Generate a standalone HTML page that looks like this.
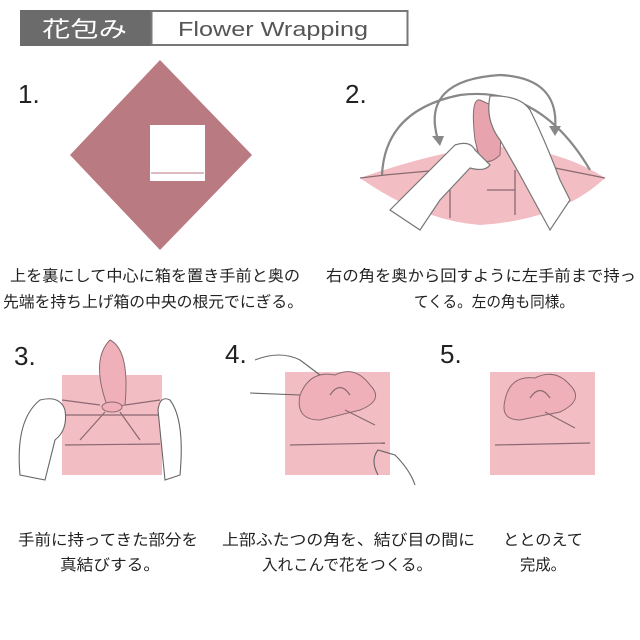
<!DOCTYPE html>
<html><head><meta charset="utf-8"><style>
html,body{margin:0;padding:0;background:#fff;}
svg{display:block;font-family:"Liberation Sans","Noto Sans CJK JP",sans-serif;}
</style></head><body>
<svg width="640" height="640" viewBox="0 0 640 640" xmlns="http://www.w3.org/2000/svg">
<rect x="20" y="10" width="132" height="36" fill="#6b6b6b"/>
<rect x="151.5" y="11" width="256" height="34" fill="#fff" stroke="#777" stroke-width="2"/>
<text x="42" y="37" font-size="22" fill="#fff" textLength="85" lengthAdjust="spacingAndGlyphs">花包み</text>
<text x="178" y="36" font-size="20" fill="#555" textLength="190" lengthAdjust="spacingAndGlyphs">Flower Wrapping</text>

<g font-size="26" fill="#222">
<text x="18" y="103">1.</text>
<text x="345" y="103">2.</text>
<text x="14" y="365">3.</text>
<text x="225" y="363">4.</text>
<text x="440" y="363">5.</text>
</g>

<polygon points="160,60 252,155 160,250 70,155" fill="#b97a81"/>
<rect x="150" y="125" width="55" height="56" fill="#fff"/>
<line x1="151" y1="173" x2="204" y2="173" stroke="#b97a81" stroke-width="1"/>

<path d="M360,178 Q470,140 520,148 Q570,155 605,178 Q560,220 480,225 Q420,220 360,178Z" fill="#f3bdc4"/>
<path d="M480,100 Q470,98 475,140 L480,160 Q490,165 500,155 L502,110Z" fill="#e8a4ae" stroke="#8a6a70"/>
<g fill="none" stroke="#8a6a70" stroke-width="1.3">
<path d="M360,178 L385,175 L440,170"/><path d="M540,165 L590,175 L605,178"/>
<path d="M450,190 L450,218"/><path d="M515,170 L515,215"/><path d="M487,190 L515,190"/>
</g>
<g fill="none" stroke="#888" stroke-width="2.2">
<path d="M382,175 Q385,110 460,95 Q540,85 590,170"/>
<path d="M438,140 Q420,80 500,75 Q560,78 555,130"/>
</g>
<polygon points="432,136 444,136 440,146" fill="#888"/>
<polygon points="549,126 561,126 555,136" fill="#888"/>
<g fill="#fff" stroke="#777" stroke-width="1.2">
<path d="M390,210 L455,145 Q470,140 475,150 L490,165 Q485,172 470,168 L440,200 L420,230Z"/>
<path d="M490,96 Q520,95 530,110 Q545,140 560,180 L570,200 L550,230 L520,175 L500,140 Q485,120 490,96Z"/>
</g>

<rect x="62" y="375" width="100" height="100" fill="#f3bdc4"/>
<path d="M108,408 Q90,360 110,340 Q130,350 125,405Z" fill="#f0b0ba" stroke="#8a6a70"/>
<ellipse cx="112" cy="407" rx="10" ry="5" fill="#f0b0ba" stroke="#8a6a70"/>
<g fill="none" stroke="#8a6a70" stroke-width="1.2">
<path d="M62,400 L100,405"/><path d="M125,405 L160,400"/><path d="M62,415 L160,415"/>
<path d="M105,412 L80,440"/><path d="M120,412 L140,440"/><path d="M65,445 L160,444"/>
</g>
<g fill="#fff" stroke="#666" stroke-width="1.1">
<path d="M20,475 Q15,420 40,400 Q60,395 65,410 Q68,430 55,440 L45,480Z"/>
<path d="M180,475 Q185,420 170,400 Q160,395 158,410 L165,480Z"/>
</g>

<rect x="285" y="372" width="105" height="103" fill="#f3bdc4"/>
<path d="M300,395 Q310,370 335,375 Q355,365 370,385 Q385,400 360,410 L320,420 Q295,420 300,395Z" fill="#f0b0ba" stroke="#8a6a70"/>
<g fill="none" stroke="#8a6a70" stroke-width="1.2">
<path d="M290,445 L385,443"/><path d="M330,395 Q340,380 350,395"/><path d="M345,410 L375,425"/>
</g>
<g fill="none" stroke="#666" stroke-width="1.1">
<path d="M255,360 Q280,350 300,360 L320,375"/><path d="M250,393 L300,395"/>
<path d="M378,475 Q370,460 378,450 L395,455 Q410,470 415,485"/>
</g>

<rect x="490" y="372" width="105" height="103" fill="#f3bdc4"/>
<path d="M505,400 Q510,375 535,378 Q555,368 570,385 Q585,400 560,412 L520,420 Q500,420 505,400Z" fill="#f0b0ba" stroke="#8a6a70"/>
<g fill="none" stroke="#8a6a70" stroke-width="1.2">
<path d="M495,445 L590,443"/><path d="M530,398 Q540,383 550,398"/><path d="M545,412 L575,428"/>
</g>

<g font-size="15.5" fill="#222" lengthAdjust="spacingAndGlyphs">
<text x="10" y="281" textLength="290" lengthAdjust="spacingAndGlyphs">上を裏にして中心に箱を置き手前と奥の</text>
<text x="3" y="307" textLength="300" lengthAdjust="spacingAndGlyphs">先端を持ち上げ箱の中央の根元でにぎる。</text>
<text x="326" y="281" textLength="310" lengthAdjust="spacingAndGlyphs">右の角を奥から回すように左手前まで持っ</text>
<text x="414" y="307" textLength="160" lengthAdjust="spacingAndGlyphs">てくる。左の角も同様。</text>
<text x="18" y="545" textLength="180" lengthAdjust="spacingAndGlyphs">手前に持ってきた部分を</text>
<text x="60" y="570" textLength="100" lengthAdjust="spacingAndGlyphs">真結びする。</text>
<text x="222" y="545" textLength="253" lengthAdjust="spacingAndGlyphs">上部ふたつの角を、結び目の間に</text>
<text x="262" y="570" textLength="170" lengthAdjust="spacingAndGlyphs">入れこんで花をつくる。</text>
<text x="503" y="545" textLength="80" lengthAdjust="spacingAndGlyphs">ととのえて</text>
<text x="520" y="570" textLength="46" lengthAdjust="spacingAndGlyphs">完成。</text>
</g>
</svg>
</body></html>
